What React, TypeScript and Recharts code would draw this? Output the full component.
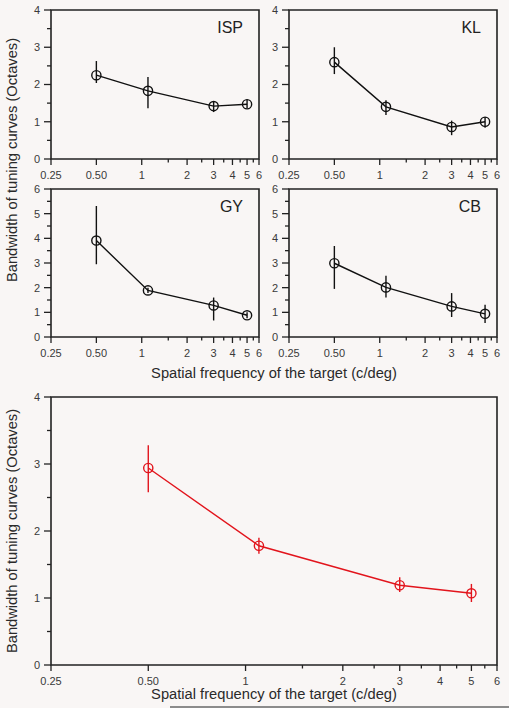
import React from "react";
import { LineChart, Line, XAxis, YAxis, ErrorBar, ReferenceArea } from "recharts";

// spatial frequency of the target (c/deg)
const FREQS = [0.5, 1.1, 3, 5];

const X_TICKS = [0.25, 0.5, 1, 1.5, 2, 2.5, 3, 3.5, 4, 4.5, 5, 5.5, 6];
const X_MAJOR = [0.25, 0.5, 1, 2, 3, 4, 5, 6];
const Y_TICKS_4 = [0, 0.5, 1, 1.5, 2, 2.5, 3, 3.5, 4];
const Y_TICKS_6 = [0, 0.5, 1, 1.5, 2, 2.5, 3, 3.5, 4, 4.5, 5, 5.5, 6];

// bandwidth (octaves): mean, lower and upper end of the error bar
const ISP_MEAN = [2.25, 1.83, 1.42, 1.47];
const ISP_LOW = [2.04, 1.36, 1.26, 1.36];
const ISP_HIGH = [2.63, 2.2, 1.55, 1.6];

const KL_MEAN = [2.6, 1.4, 0.86, 1.0];
const KL_LOW = [2.28, 1.18, 0.64, 0.84];
const KL_HIGH = [3.0, 1.58, 1.03, 1.13];

const GY_MEAN = [3.91, 1.89, 1.28, 0.88];
const GY_LOW = [2.95, 1.78, 0.67, 0.76];
const GY_HIGH = [5.31, 2.0, 1.6, 1.0];

const CB_MEAN = [2.99, 2.01, 1.24, 0.94];
const CB_LOW = [1.95, 1.6, 0.81, 0.57];
const CB_HIGH = [3.69, 2.48, 1.78, 1.31];

const AVG_MEAN = [2.94, 1.78, 1.19, 1.07];
const AVG_LOW = [2.58, 1.66, 1.09, 0.94];
const AVG_HIGH = [3.28, 1.9, 1.31, 1.21];

const FONT = '"Liberation Sans", Arial, Helvetica, sans-serif';
const AXIS = "#222";
const TICK_TEXT = "#3a3a3a";
const RED = "#e2141c";

const fmtX = (v: number) => (v === 0.25 ? "0.25" : v === 0.5 ? "0.50" : String(v));

const XTick = (props: any) => {
  const { x, y, payload } = props;
  const major = X_MAJOR.includes(payload.value);
  return (
    <g>
      <line x1={x} x2={x} y1={y} y2={y + (major ? 6 : 3.5)} stroke={AXIS} strokeWidth={1.3} />
      {major && (
        <text x={x} y={y + 20} textAnchor="middle" fontSize={11} fill={TICK_TEXT} fontFamily={FONT}>
          {fmtX(payload.value)}
        </text>
      )}
    </g>
  );
};

const YTick = (props: any) => {
  const { x, y, payload } = props;
  const major = Number.isInteger(payload.value);
  return (
    <g>
      <line x1={x - (major ? 7 : 4)} x2={x} y1={y} y2={y} stroke={AXIS} strokeWidth={1.3} />
      {major && (
        <text x={x - 11} y={y} dy="0.35em" textAnchor="end" fontSize={11} fill={TICK_TEXT} fontFamily={FONT}>
          {payload.value}
        </text>
      )}
    </g>
  );
};

interface PanelProps {
  left: number;
  top: number;
  width: number;
  height: number;
  yTicks: number[];
  means: number[];
  lows: number[];
  highs: number[];
  color: string;
  label?: string;
}

function Panel({ left, top, width, height, yTicks, means, lows, highs, color, label }: PanelProps) {
  const ML = 45;
  const MT = 5;
  const MR = 5;
  const XH = 25;
  const yMax = yTicks[yTicks.length - 1];
  const data = FREQS.map((f, i) => ({
    f,
    v: means[i],
    err: [means[i] - lows[i], highs[i] - means[i]],
  }));
  return (
    <div style={{ position: "absolute", left: left - ML, top: top - MT }}>
      <LineChart
        width={width + ML + MR}
        height={height + MT + XH}
        data={data}
        margin={{ top: MT, right: MR, left: 0, bottom: 0 }}
      >
        <XAxis
          dataKey="f"
          type="number"
          scale="log"
          domain={[0.25, 6]}
          ticks={X_TICKS}
          interval={0}
          allowDataOverflow
          height={XH}
          tick={(p: any) => <XTick {...p} />}
          tickLine={false}
          axisLine={false}
          tickSize={0}
          tickMargin={0}
        />
        <YAxis
          type="number"
          domain={[0, yMax]}
          ticks={yTicks}
          interval={0}
          width={ML}
          tick={(p: any) => <YTick {...p} />}
          tickLine={false}
          axisLine={false}
          tickSize={0}
          tickMargin={0}
        />
        <ReferenceArea x1={0.25} x2={6} y1={0} y2={yMax} fill="none" stroke={AXIS} strokeWidth={1.6} ifOverflow="visible" />
        <Line
          dataKey="v"
          stroke={color}
          strokeWidth={1.4}
          isAnimationActive={false}
          dot={{ r: 4.6, fill: "none", stroke: color, strokeWidth: 1.4 }}
          activeDot={false}
        >
          <ErrorBar dataKey="err" direction="y" width={0} stroke={color} strokeWidth={1.4} />
        </Line>
      </LineChart>
      {label && (
        <div
          style={{
            position: "absolute",
            right: MR + 16,
            top: MT + 9,
            fontSize: 16,
            fontFamily: FONT,
            color: "#222",
            lineHeight: "18px",
          }}
        >
          {label}
        </div>
      )}
    </div>
  );
}

const Title = ({ cx, cy, text, rotate }: { cx: number; cy: number; text: string; rotate?: boolean }) => (
  <div
    style={{
      position: "absolute",
      left: cx,
      top: cy,
      transform: `translate(-50%, -50%)${rotate ? " rotate(-90deg)" : ""}`,
      whiteSpace: "nowrap",
      fontSize: 14.7,
      fontFamily: FONT,
      color: "#2a2a2a",
    }}
  >
    {text}
  </div>
);

export default function App() {
  return (
    <div
      style={{
        position: "fixed",
        left: 0,
        top: 0,
        width: 509,
        height: 708,
        background: "#f9f6f5",
        overflow: "hidden",
      }}
    >
      <Panel left={51} top={10} width={208} height={149} yTicks={Y_TICKS_4} means={ISP_MEAN} lows={ISP_LOW} highs={ISP_HIGH} color="#111" label="ISP" />
      <Panel left={289} top={10} width={208} height={149} yTicks={Y_TICKS_4} means={KL_MEAN} lows={KL_LOW} highs={KL_HIGH} color="#111" label="KL" />
      <Panel left={51} top={189} width={208} height={148} yTicks={Y_TICKS_6} means={GY_MEAN} lows={GY_LOW} highs={GY_HIGH} color="#111" label="GY" />
      <Panel left={289} top={189} width={208} height={148} yTicks={Y_TICKS_6} means={CB_MEAN} lows={CB_LOW} highs={CB_HIGH} color="#111" label="CB" />
      <Title cx={12} cy={160} text="Bandwidth of tuning curves (Octaves)" rotate />
      <Title cx={274} cy={373} text="Spatial frequency of the target (c/deg)" />

      <Panel left={51} top={397} width={446} height={268} yTicks={Y_TICKS_4} means={AVG_MEAN} lows={AVG_LOW} highs={AVG_HIGH} color={RED} />
      <Title cx={12} cy={531} text="Bandwidth of tuning curves (Octaves)" rotate />
      <Title cx={274} cy={694} text="Spatial frequency of the target (c/deg)" />

      <div style={{ position: "absolute", left: 170, top: 706, width: 339, height: 2, background: "#8c8c8c" }} />
    </div>
  );
}
